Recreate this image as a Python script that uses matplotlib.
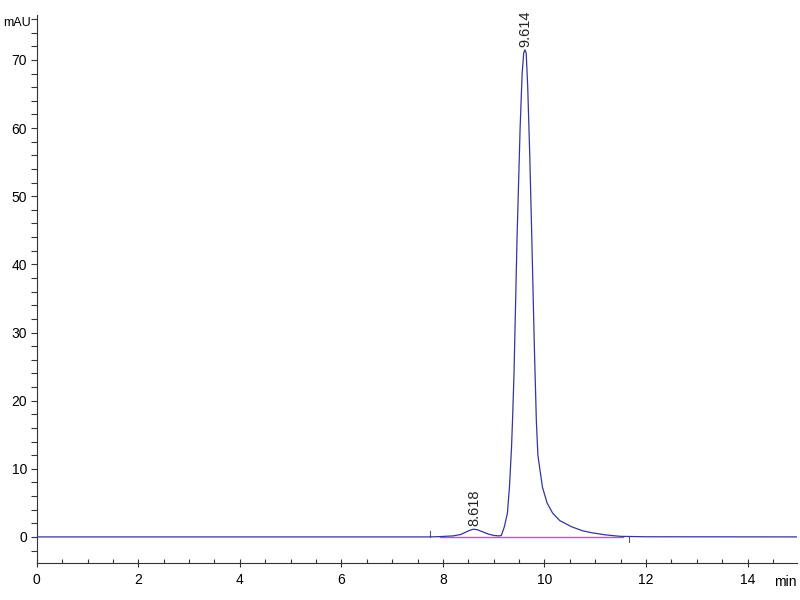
import matplotlib
matplotlib.use('Agg')
import matplotlib.pyplot as plt
from matplotlib.ticker import MultipleLocator

plt.rcParams['font.family'] = ['Liberation Sans', 'DejaVu Sans']

# chromatogram trace (min, mAU)
time = [0.0, 7.75, 7.95, 8.2, 8.35, 8.45, 8.52, 8.6, 8.68, 8.78, 8.9, 9.0, 9.1, 9.15,
        9.21, 9.27, 9.31, 9.35, 9.37, 9.40, 9.46, 9.52, 9.56, 9.59, 9.614,
        9.64, 9.67, 9.71, 9.75, 9.80, 9.84, 9.87, 9.96, 10.05, 10.16, 10.3, 10.53,
        10.75, 10.94, 11.2, 11.5, 12.0, 15.0]
signal = [0.0, 0.0, 0.05, 0.15, 0.35, 0.7, 0.95, 1.13, 1.05, 0.75, 0.4, 0.22, 0.15, 0.2,
          1.5, 3.5, 7.3, 13.0, 17.0, 24.0, 44.0, 60.0, 68.0, 71.0, 71.5,
          71.0, 66.0, 56.0, 44.0, 28.0, 17.0, 12.0, 7.3, 5.0, 3.5, 2.4, 1.5,
          0.9, 0.6, 0.3, 0.08, 0.02, 0.0]

# integration baseline
base_t = [7.95, 11.55]
base_y = [0.0, 0.0]

# event marks
event_t = [7.75, 11.67]
event_y = [0.8, -0.7]

peak_rt = [8.618, 9.614]
peak_h = [1.13, 71.5]
peak_lbl = ['8.618', '9.614']

fig = plt.figure(figsize=(8, 6), dpi=100)
ax = fig.add_axes([0.046, 0.062, 0.95, 0.913])

ax.plot(time, signal, color='#36369a', lw=0.9, zorder=3)
ax.plot(base_t, base_y, color='#e040e0', lw=1.0, zorder=2)
for t, y in zip(event_t, event_y):
    ax.plot([t, t], [0, y], color='#555577', lw=0.8)

for t, h, s in zip(peak_rt, peak_h, peak_lbl):
    ax.annotate(s, (t, h), xytext=(0, 2), textcoords='offset points',
                rotation=90, ha='center', va='bottom', fontsize=10.5, color='#222222')

ax.set_xlim(0, 14.97)
ax.set_ylim(-3.8, 76.6)

for sp in ['top', 'right']:
    ax.spines[sp].set_visible(False)
ax.spines['left'].set_color('#333333')
ax.spines['bottom'].set_color('#333333')

ax.xaxis.set_major_locator(MultipleLocator(2))
ax.xaxis.set_minor_locator(MultipleLocator(0.5))
ax.yaxis.set_major_locator(MultipleLocator(10))
ax.yaxis.set_minor_locator(MultipleLocator(2))

ax.tick_params(axis='x', which='major', direction='inout', length=6, width=0.8,
               labelsize=10, pad=4, color='#333333')
ax.tick_params(axis='x', which='minor', direction='in', length=3, width=0.8, color='#333333')
ax.tick_params(axis='y', which='major', direction='out', length=4, width=0.8,
               labelsize=10, pad=3, color='#333333')
ax.tick_params(axis='y', which='minor', direction='out', length=4, width=0.8, color='#333333')

fig.text(0.004, 0.962, 'mAU', fontsize=9, va='center', ha='left')
fig.text(0.996, 0.030, 'min', fontsize=10, va='center', ha='right')

fig.savefig('out.png', dpi=100)
